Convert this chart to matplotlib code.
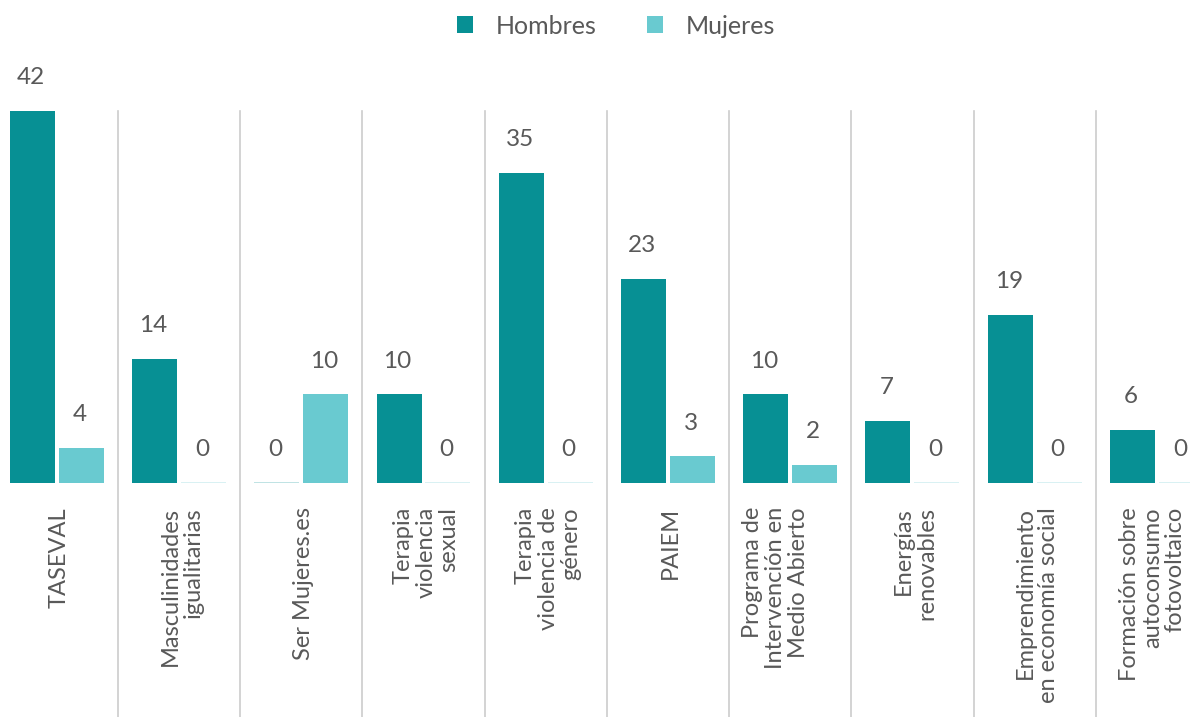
import matplotlib
matplotlib.use("Agg")
import matplotlib.pyplot as plt
from matplotlib.patches import Patch
from matplotlib.transforms import blended_transform_factory, offset_copy
import numpy as np

categories = [
    "TASEVAL",
    "Masculinidades\nigualitarias",
    "Ser Mujeres.es",
    "Terapia\nviolencia\nsexual",
    "Terapia\nviolencia de\ngénero",
    "PAIEM",
    "Programa de\nIntervención en\nMedio Abierto",
    "Energías\nrenovables",
    "Emprendimiento\nen economía social",
    "Formación sobre\nautoconsumo\nfotovoltaico",
]
hombres = [42, 14, 0, 10, 35, 23, 10, 7, 19, 6]
mujeres = [4, 0, 10, 0, 0, 3, 2, 0, 0, 0]
series_names = ["Hombres", "Mujeres"]

C_H = "#079094"
C_M = "#69cad0"
TXT = "#595959"
FONT = ["Lato", "DejaVu Sans"]
plt.rcParams["font.family"] = FONT

W, H = 1190, 717
fig = plt.figure(figsize=(W / 100, H / 100), dpi=100)
left_px, right_px = -4.3, 1218.0
top_px, base_px = 111.0, 483.0
ax = fig.add_axes([left_px / W, 1 - base_px / H, (right_px - left_px) / W, (base_px - top_px) / H])

n = len(categories)
x = np.arange(n)
bw = 0.368
off = 0.2
ymax = 42.0
zero_h = 0.12

for vals, color, sign in [(hombres, C_H, -1), (mujeres, C_M, 1)]:
    for xi, v in zip(x, vals):
        if v == 0:
            ax.bar(xi + sign * off, zero_h, width=bw, color=color, alpha=0.25, linewidth=0)
        else:
            ax.bar(xi + sign * off, v, width=bw, color=color, linewidth=0)
        ax.annotate(str(v), xy=(xi + sign * off, v), xytext=(-1, 24), textcoords="offset points",
                    ha="center", va="center", fontsize=17.5, color=TXT)

ax.set_xlim(-0.5, n - 0.5)
ax.set_ylim(0, ymax)
ax.axis("off")

ymin_axes = -(H - base_px) / (base_px - top_px)
for i in range(n - 1):
    ax.axvline(i + 0.5, ymin=ymin_axes, ymax=1, color="#cccccc", linewidth=1.2, clip_on=False, zorder=0)

trans = blended_transform_factory(ax.transData, ax.transAxes)
label_y = -24.0 / (base_px - top_px)
# layout nudges (pixels) for a few labels, as placed in the original
nudge_px = {6: -17, 9: -7}
for i, (xi, lab) in enumerate(zip(x, categories)):
    t = offset_copy(trans, fig=fig, x=nudge_px.get(i, 0), y=0, units="dots")
    ax.text(xi + 0.02, label_y, lab, rotation=90, ha="center", va="top", multialignment="right",
            transform=t, fontsize=17, color=TXT, linespacing=1.12)

handles = [Patch(facecolor=C_H, edgecolor="none"), Patch(facecolor=C_M, edgecolor="none")]
leg = fig.legend(handles, series_names, loc="center", bbox_to_anchor=(616 / W, 1 - 26 / H), ncol=2,
                 frameon=False, fontsize=18, handlelength=0.65, handleheight=0.65,
                 handletextpad=0.9, columnspacing=2.0, labelcolor=TXT)

fig.savefig("out.png", dpi=100)
